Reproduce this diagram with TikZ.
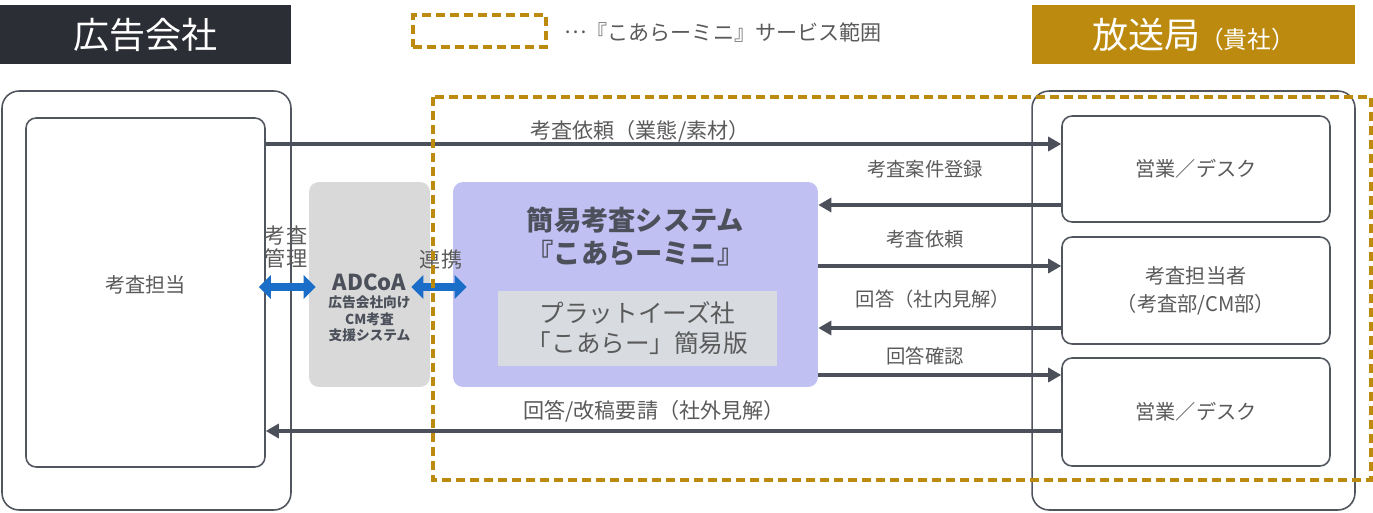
\documentclass[tikz,border=0pt]{standalone}
\usepackage{fontspec}
\setmainfont{Noto Sans CJK JP}
\usetikzlibrary{arrows.meta}
\definecolor{hdark}{HTML}{2B2E35}
\definecolor{gold}{HTML}{BC8A0E}
\definecolor{edge}{HTML}{50555E}
\definecolor{ink}{HTML}{4B505A}
\definecolor{label}{HTML}{5A5A5A}
\definecolor{bluearr}{HTML}{1A6EC8}
\definecolor{lavender}{HTML}{C0C0F2}
\definecolor{adgray}{HTML}{D9D9D9}
\definecolor{pane}{HTML}{D8DBE0}
\begin{document}
\begin{tikzpicture}[x=0.02cm,y=-0.02cm,
  head/.style={inner sep=0pt, text=white},
  frame/.style={draw=edge, line width=0.9pt, rounded corners=0.34cm, inner sep=0pt},
  unit/.style={draw=edge, line width=0.9pt, rounded corners=0.2cm, fill=white, inner sep=0pt,
    text=label, align=center, font=\fontsize{11.5}{16}\selectfont},
  flow/.style={draw=ink, line width=1.8pt, -{Triangle[length=0.26cm,width=0.28cm]}},
  tag/.style={text=label, font=\fontsize{11}{13}\selectfont},
  wide/.style={tag, font=\fontsize{12}{14}\selectfont},
  link/.style={draw=bluearr, line width=4.5pt,
    {Triangle[length=0.24cm,width=0.46cm]}-{Triangle[length=0.24cm,width=0.46cm]}},
  service/.style={draw=gold, line width=2.8pt, dash pattern=on 0.18cm off 0.1cm}]
\useasboundingbox (0,0) rectangle (1373,513);

% headers and legend
\node[head, fill=hdark, minimum width=5.82cm, minimum height=1.18cm,
  font=\fontsize{20.5}{24}\selectfont] (agency) at (145.5,34.5) {広告会社};
\node[head, fill=gold, minimum width=6.46cm, minimum height=1.18cm,
  font=\fontsize{20.5}{24}\selectfont] (station) at (1193.5,34.5)
  {放送局{\fontsize{13.5}{16}\selectfont（貴社）}};
\node[service, minimum width=2.66cm, minimum height=0.64cm] (key) at (479.5,31) {};
\node[tag, anchor=west, font=\fontsize{12}{14}\selectfont] (keytext) at (558,32)
  {\raisebox{0.32em}{…}『こあらーミニ』サービス範囲};

% agency side
\node[frame, minimum width=5.78cm, minimum height=8.38cm] (agencyside) at (146.5,300.5) {};
\node[unit, minimum width=4.78cm, minimum height=6.98cm] (agent) at (145.5,292.5) {};
\node[text=label, font=\fontsize{11.5}{16}\selectfont] (agenttext) at (145.5,285) {考査担当};

% ADCoA
\node[fill=adgray, rounded corners=0.2cm, minimum width=2.42cm, minimum height=4.1cm] (adcoa) at (369.5,284.5) {};
\node[text=ink, align=center, font=\bfseries\fontsize{7.8}{9.6}\selectfont] (adcoatext) at (369.5,308)
  {{\fontsize{12.5}{16}\selectfont ADCoA}\\広告会社向け\\CM考査\\支援システム};

% kora mini
\node[fill=lavender, rounded corners=0.2cm, minimum width=7.3cm, minimum height=4.1cm] (kora) at (635.5,284.5) {};
\node[text=ink, align=center, font=\bfseries\fontsize{15.5}{19}\selectfont] (koratitle) at (635.5,236.5)
  {簡易考査システム\\『こあらーミニ』};
\node[fill=pane, minimum width=5.58cm, minimum height=1.5cm, text=label, align=center,
  font=\fontsize{14}{17}\selectfont] (koraplus) at (637.5,328.5)
  {プラットイーズ社\\「こあらー」簡易版};

% station side
\node[frame, minimum width=6.46cm, minimum height=8.38cm] (stationside) at (1193.5,300.5) {};
\node[unit, minimum width=5.36cm, minimum height=2.12cm] (desk) at (1196,169) {営業／デスク};
\node[unit, minimum width=5.36cm, minimum height=2.14cm] (checker) at (1196,290.5) {考査担当者\\（考査部/CM部）};
\node[unit, minimum width=5.36cm, minimum height=2.16cm] (desktwo) at (1196,412) {営業／デスク};

% flows
\draw[flow] (agent.east |- 0,144) -- (desk.west |- 0,144);
\draw[flow] (desk.west |- 0,205) -- (kora.east |- 0,205);
\draw[flow] (kora.east |- 0,266) -- (checker.west |- 0,266);
\draw[flow] (checker.west |- 0,328) -- (kora.east |- 0,328);
\draw[flow] (kora.east |- 0,375) -- (desktwo.west |- 0,375);
\draw[flow] (desktwo.west |- 0,431) -- (agent.east |- 0,431);

\node[wide] (ask) at (640,131) {考査依頼（業態/素材）};
\node[tag] (entry) at (925,169) {考査案件登録};
\node[tag] (askcheck) at (925,239) {考査依頼};
\node[tag] (answer) at (933,299) {回答（社内見解）};
\node[tag] (confirm) at (925,356) {回答確認};
\node[wide] (reply) at (654,411) {回答/改稿要請（社外見解）};

% blue links
\draw[link, shorten <=-0.14cm, shorten >=-0.14cm] (agent.east |- 0,287) -- (adcoa.west |- 0,287);
\draw[link, shorten <=-0.38cm, shorten >=-0.28cm] (adcoa.east |- 0,287) -- (kora.west |- 0,287);
\node[tag, align=center, font=\fontsize{12}{13}\selectfont] (manage) at (286,247) {考査\\管理};
\node[tag, font=\fontsize{12}{14}\selectfont] (tie) at (441,260) {連携};

% service range
\draw[service] (433,97) rectangle (1371,480);
\end{tikzpicture}
\end{document}
